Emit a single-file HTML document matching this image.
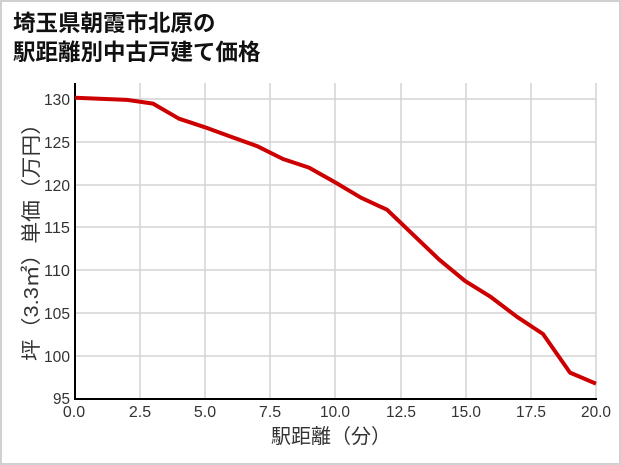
<!DOCTYPE html>
<html><head><meta charset="utf-8"><style>
html,body{margin:0;padding:0;background:#fff;}
svg{display:block;}
</style></head><body>
<svg width="621" height="465" xmlns="http://www.w3.org/2000/svg" font-family="'Liberation Sans','Noto Sans CJK JP',sans-serif">
<rect x="1" y="1" width="619" height="463" fill="#fff" stroke="#d0d0d0" stroke-width="2"/>
<text x="13" y="31" font-size="22.5" font-weight="bold" fill="#111">埼玉県朝霞市北原の</text>
<text x="13" y="60" font-size="22.5" font-weight="bold" fill="#111">駅距離別中古戸建て価格</text>
<g stroke="#d3d3d3" stroke-width="1.5">
<line x1="140" y1="83" x2="140" y2="399"/>
<line x1="205" y1="83" x2="205" y2="399"/>
<line x1="270" y1="83" x2="270" y2="399"/>
<line x1="335" y1="83" x2="335" y2="399"/>
<line x1="401" y1="83" x2="401" y2="399"/>
<line x1="466" y1="83" x2="466" y2="399"/>
<line x1="531" y1="83" x2="531" y2="399"/>
<line x1="596" y1="83" x2="596" y2="399"/>
<line x1="75" y1="99" x2="596" y2="99"/>
<line x1="75" y1="142" x2="596" y2="142"/>
<line x1="75" y1="185" x2="596" y2="185"/>
<line x1="75" y1="227" x2="596" y2="227"/>
<line x1="75" y1="270" x2="596" y2="270"/>
<line x1="75" y1="313" x2="596" y2="313"/>
<line x1="75" y1="356" x2="596" y2="356"/>
</g>
<line x1="75" y1="83" x2="75" y2="400" stroke="#000" stroke-width="2"/>
<line x1="74" y1="399" x2="597" y2="399" stroke="#000" stroke-width="2"/>
<g font-size="16" fill="#333" text-anchor="end">
<text x="70" y="105" textLength="26" lengthAdjust="spacingAndGlyphs">130</text>
<text x="70" y="148" textLength="26" lengthAdjust="spacingAndGlyphs">125</text>
<text x="70" y="191" textLength="26" lengthAdjust="spacingAndGlyphs">120</text>
<text x="70" y="233" textLength="26" lengthAdjust="spacingAndGlyphs">115</text>
<text x="70" y="276" textLength="26" lengthAdjust="spacingAndGlyphs">110</text>
<text x="70" y="319" textLength="26" lengthAdjust="spacingAndGlyphs">105</text>
<text x="70" y="362" textLength="26" lengthAdjust="spacingAndGlyphs">100</text>
<text x="70" y="404" textLength="17" lengthAdjust="spacingAndGlyphs">95</text>
</g>
<g font-size="16" fill="#333" text-anchor="middle">
<text x="74" y="417">0.0</text>
<text x="140" y="417">2.5</text>
<text x="205" y="417">5.0</text>
<text x="270" y="417">7.5</text>
<text x="335" y="417" textLength="30" lengthAdjust="spacingAndGlyphs">10.0</text>
<text x="401" y="417" textLength="30" lengthAdjust="spacingAndGlyphs">12.5</text>
<text x="466" y="417" textLength="30" lengthAdjust="spacingAndGlyphs">15.0</text>
<text x="531" y="417" textLength="30" lengthAdjust="spacingAndGlyphs">17.5</text>
<text x="596" y="417" textLength="30" lengthAdjust="spacingAndGlyphs">20.0</text>
<text x="331" y="443" font-size="20">駅距離（分）</text>
<text transform="translate(38,237) rotate(-90)" font-size="20" textLength="248" lengthAdjust="spacingAndGlyphs">坪（3.3㎡）単価（万円）</text>
</g>
<polyline fill="none" stroke="#cc0000" stroke-width="4" stroke-linejoin="round" points="75,97.7 127,99.9 153,103.6 179,118.7 205,127.3 231,136.7 257,146.1 283,159.0 309,167.6 335,182.3 361,197.7 387,209.7 413,234.6 439,259.4 465,280.9 491,297.1 517,316.8 543,334.0 570,372.6 596,383.7"/>
</svg>
</body></html>
